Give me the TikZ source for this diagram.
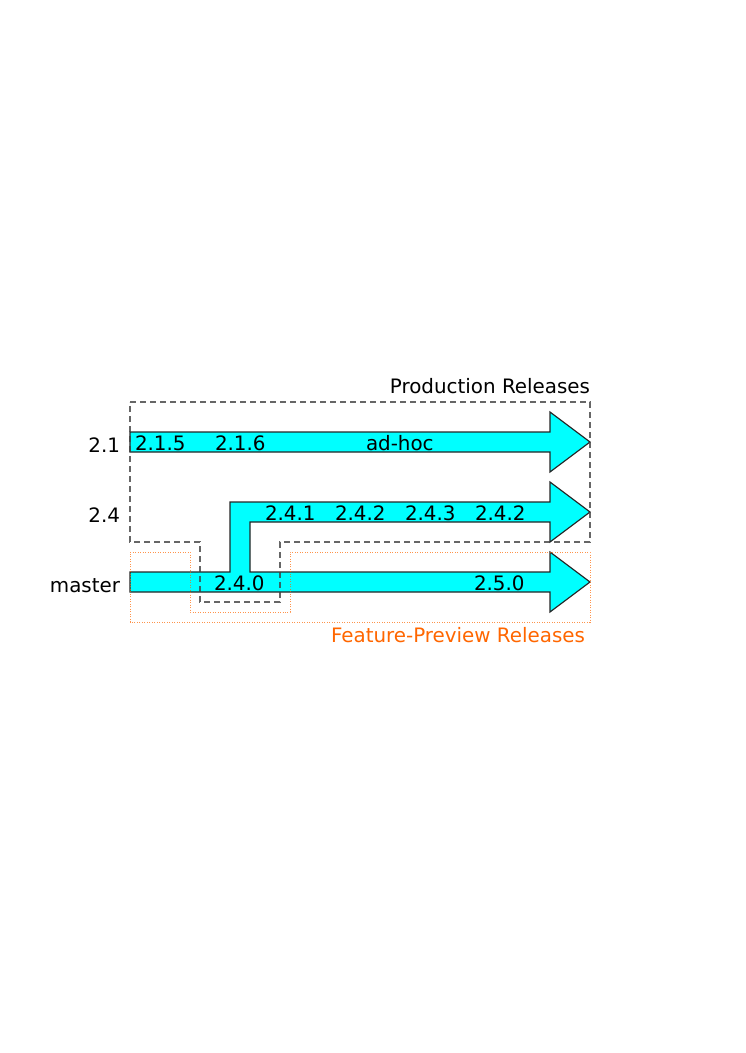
\documentclass[tikz,border=0pt]{standalone}
\usepackage{fontspec}
\setmainfont{DejaVu Sans}
\definecolor{flowcyan}{RGB}{0,255,255}
\definecolor{prevorange}{RGB}{255,102,0}
\begin{document}
\begin{tikzpicture}[x=0.8pt,y=-0.8pt,
  every node/.style={inner sep=0pt,outer sep=0pt,font=\fontsize{15.9pt}{18pt}\selectfont},
  flow/.style={fill=flowcyan,draw=black!85,line width=0.9pt,line join=miter},
  prodbox/.style={draw=black!75,line width=1.1pt,dash pattern=on 4.8pt off 3.2pt,opacity=0.8},
  prevbox/.style={draw=prevorange,line width=0.8pt,dash pattern=on 0.8pt off 1.2pt,opacity=0.7},
  ver/.style={anchor=base west},
  lbl/.style={anchor=base east}]
\useasboundingbox (0,0) rectangle (745,1053);
% branch 2.1
\draw[flow] (130,432) -- (550,432) -- (550,412) -- (590,442) -- (550,472) -- (550,452) -- (130,452) -- cycle;
% master with branch 2.4
\draw[flow] (130,572) -- (230,572) -- (230,502) -- (550,502) -- (550,482) -- (590,512) -- (550,542) -- (550,522) -- (250,522) -- (250,572) -- (550,572) -- (550,552) -- (590,582) -- (550,612) -- (550,592) -- (130,592) -- cycle;
% version labels
\node[ver] (v215) at (135,450) {2.1.5};
\node[ver] (v216) at (215,450) {2.1.6};
\node[ver] (vadhoc) at (366,450) {ad-hoc};
\node[ver] (v241) at (265,520) {2.4.1};
\node[ver] (v242) at (335,520) {2.4.2};
\node[ver] (v243) at (405,520) {2.4.3};
\node[ver] (v242b) at (475,520) {2.4.2};
\node[ver] (v240) at (214,590) {2.4.0};
\node[ver] (v250) at (474,590) {2.5.0};
% branch labels
\node[lbl] (b21) at (120,452) {2.1};
\node[lbl] (b24) at (120,522) {2.4};
\node[lbl] (bmaster) at (120,592) {master};
% production releases box
\draw[prodbox] (130,402) -- (590,402) -- (590,542) -- (280,542) -- (280,602) -- (200,602) -- (200,542) -- (130,542) -- cycle;
\node[lbl] (prod) at (590,393) {Production Releases};
% feature-preview releases box
\draw[prevbox] (130,552) -- (190,552) -- (190,612) -- (290,612) -- (290,552) -- (590,552) -- (590,622) -- (130,622) -- cycle;
\node[lbl,text=prevorange] (prev) at (585,642) {Feature-Preview Releases};
\end{tikzpicture}
\end{document}
